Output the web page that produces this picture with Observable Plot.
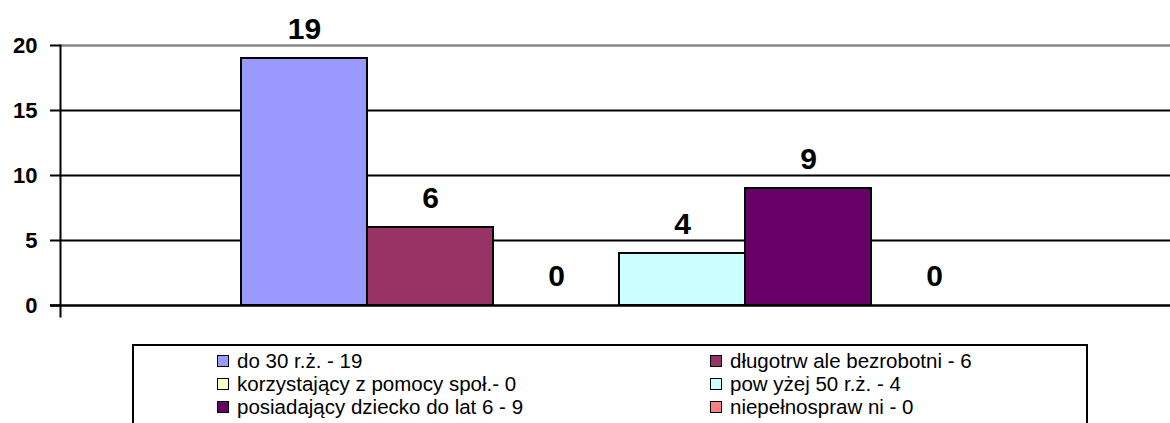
<!DOCTYPE html>
<html>
<head>
<meta charset="utf-8">
<script src="https://cdn.jsdelivr.net/npm/d3@7"></script>
<script src="https://cdn.jsdelivr.net/npm/@observablehq/plot@0.6"></script>
<style>
  html, body { margin: 0; padding: 0; background: #fff; overflow: hidden; }
  #wrap { position: relative; width: 1170px; height: 423px; }
  #chart svg { display: block; }
  #legend {
    position: absolute; left: 132px; top: 344px; width: 952px; height: 110px;
    border: 2px solid #000; box-sizing: content-box;
    font-family: "Liberation Sans", Arial, sans-serif; font-size: 20.5px; color: #000;
  }
  .item { position: absolute; display: flex; align-items: center; height: 23px; line-height: 23px; white-space: nowrap; }
  .sw { width: 10px; height: 10px; border: 1.5px solid #000; margin-right: 8px; }
</style>
</head>
<body>
<div id="wrap">
  <div id="chart"></div>
  <div id="legend"></div>
</div>
<script>
const series = ["do 30 r.ż.", "długotrwale bezrobotni", "korzystający z pomocy społ.", "powyżej 50 r.ż.", "posiadający dziecko do lat 6", "niepełnosprawni"];
const values = [19, 6, 0, 4, 9, 0];
const colors = ["#9999FF", "#993366", "#FFFFCC", "#CCFFFF", "#660066", "#FF8080"];
const legendLabels = ["do 30 r.ż. - 19", "długotrw ale bezrobotni - 6", "korzystający z pomocy społ.- 0", "pow yżej 50 r.ż. - 4", "posiadający dziecko do lat 6 - 9", "niepełnospraw ni - 0"];
const yTicks = [0, 5, 10, 15, 20];

const data = series.map((s, i) => ({series: s, value: values[i], color: colors[i]}));

const chart = Plot.plot({
  width: 1170,
  height: 330,
  marginLeft: 60,
  marginRight: 0,
  marginTop: 45,
  marginBottom: 25,
  style: {fontFamily: "'Liberation Sans', Arial, sans-serif", color: "#000", background: "#fff"},
  x: {type: "band", domain: series, range: [241, 997], padding: 0, axis: null},
  y: {domain: [0, 20], axis: null},
  marks: [
    Plot.ruleY([5, 10, 15], {stroke: "#000", strokeWidth: 2}),
    Plot.ruleY([20], {stroke: "#888", strokeWidth: 2.5}),
    Plot.barY(data, {x: "series", y: "value", fill: "color", stroke: "#000", strokeWidth: 2}),
    Plot.ruleY([0], {stroke: "#000", strokeWidth: 2.5, insetLeft: -10}),
    Plot.frame({anchor: "left", stroke: "#000", strokeWidth: 2, insetBottom: -11}),
    Plot.axisY({ticks: yTicks, tickSize: 10, tickPadding: 13, stroke: "#000", strokeWidth: 2, tickFormat: d => d, fontSize: 22, fontWeight: "bold", label: null}),
    Plot.text(data, {x: "series", y: "value", text: d => String(d.value), lineAnchor: "bottom", dy: -20, fontSize: 30, fontWeight: "bold", fill: "#000"})
  ]
});
document.getElementById("chart").appendChild(chart);

const legend = document.getElementById("legend");
legendLabels.forEach((lab, i) => {
  const col = i % 2, row = Math.floor(i / 2);
  const it = document.createElement("div");
  it.className = "item";
  it.style.left = (col === 0 ? 83 : 576) + "px";
  it.style.top = (3 + row * 23) + "px";
  const sw = document.createElement("span");
  sw.className = "sw";
  sw.style.background = colors[i];
  const tx = document.createElement("span");
  tx.textContent = lab;
  it.appendChild(sw); it.appendChild(tx);
  legend.appendChild(it);
});
</script>
</body>
</html>
